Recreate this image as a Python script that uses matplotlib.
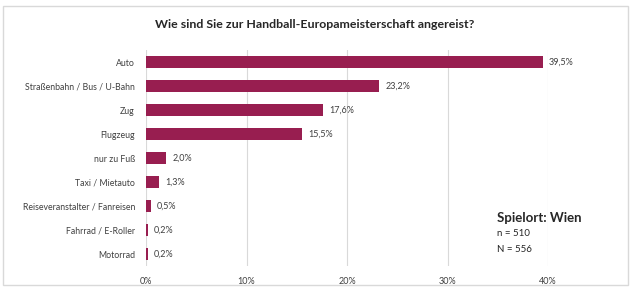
import matplotlib
matplotlib.use("Agg")
import matplotlib.pyplot as plt
from matplotlib.patches import Rectangle

categories = ["Auto", "Straßenbahn / Bus / U-Bahn", "Zug", "Flugzeug", "nur zu Fuß",
              "Taxi / Mietauto", "Reiseveranstalter / Fanreisen", "Fahrrad / E-Roller", "Motorrad"]
values = [39.5, 23.2, 17.6, 15.5, 2.0, 1.3, 0.5, 0.2, 0.2]
value_labels = ["39,5%", "23,2%", "17,6%", "15,5%", "2,0%", "1,3%", "0,5%", "0,2%", "0,2%"]
xticks = [0, 10, 20, 30, 40]
xtick_labels = ["0%", "10%", "20%", "30%", "40%"]

plt.rcParams['font.family'] = ['Lato', 'DejaVu Sans']
W, H = 644, 290
fig = plt.figure(figsize=(W/100, H/100), dpi=100)
fig.patches.append(Rectangle((3/W, 1-285/H), 625/W, 279/H, transform=fig.transFigure,
                             fill=False, edgecolor="#D9D9D9", linewidth=1))

ax = fig.add_axes([146/W, 1-266/H, (548-146)/W, 216/H])
y = list(range(len(categories)))
color = "#981E50"
ax.barh(y, values, height=0.5, color=color, zorder=3)
for yi, v, lab in zip(y, values, value_labels):
    ax.text(v + 0.6, yi, lab, va="center", ha="left", fontsize=6.5, color="#404040")
ax.set_xlim(0, 40)
ax.set_ylim(len(categories)-0.5, -0.5)
ax.set_yticks(y)
ax.set_yticklabels(categories, fontsize=6.3, color="#404040")
ax.set_xticks(xticks)
ax.set_xticklabels(xtick_labels, fontsize=6.5, color="#404040")
ax.tick_params(length=0)
ax.tick_params(axis='x', pad=8)
ax.tick_params(axis='y', pad=8)
ax.grid(axis='x', color="#D9D9D9", linewidth=0.8, zorder=0)
for s in ax.spines.values():
    s.set_visible(False)

fig.text(315/W, 1-25/H, "Wie sind Sie zur Handball-Europameisterschaft angereist?",
         ha="center", va="center", fontsize=8.9, fontweight="bold", color="#262626")
fig.text(497/W, 1-218/H, "Spielort: Wien", ha="left", va="center", fontsize=9.5,
         fontweight="bold", color="#262626")
fig.text(497/W, 1-234/H, "n = 510", ha="left", va="center", fontsize=7, color="#262626")
fig.text(497/W, 1-249/H, "N = 556", ha="left", va="center", fontsize=7, color="#262626")

fig.savefig("out.png", dpi=100)
